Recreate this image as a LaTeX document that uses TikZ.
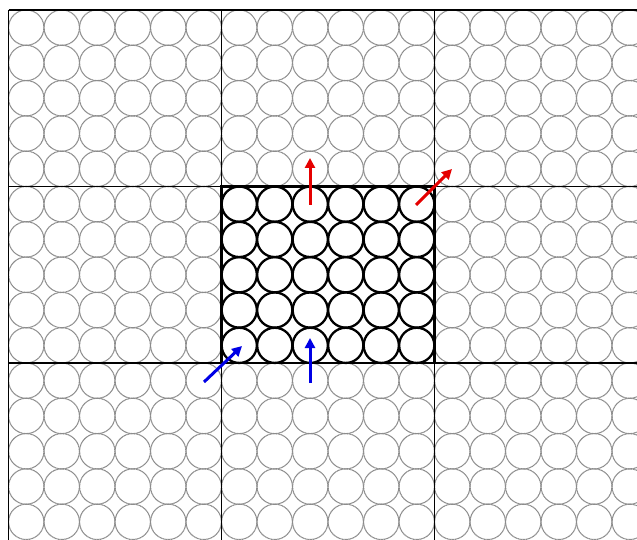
\documentclass[tikz,border=0pt]{standalone}
\usetikzlibrary{arrows.meta}
\begin{document}
\begin{tikzpicture}[
        x=1pt, y=-1pt,
        ghost/.style={draw=gray!90, dash pattern=on 1.2pt off 0.4pt, line width=1.1pt},
        atom/.style={draw=black, line width=2.3pt},
        cellline/.style={draw=black, line width=1.2pt},
        homebox/.style={draw=black, line width=2.4pt},
        leave/.style={-{Triangle[length=10pt, width=10pt]}, line width=3pt, red!90!black},
        enter/.style={-{Triangle[length=10pt, width=10pt]}, line width=3pt, blue!90!black}
    ]
        \useasboundingbox (0,0) rectangle (637,540);
        \clip (0,0) rectangle (637,540);

        % Periodic images
        \foreach \cx in {0,1,2}
            \foreach \cy in {0,1,2}
                \foreach \i in {0,...,5}
                    \foreach \j in {0,...,4}
                        \draw[ghost] ({8.5+213*\cx+35.5*(\i+0.5)}, {10+176.5*\cy+35.3*(\j+0.5)}) circle (17.7);

        % Cell boundaries
        \draw[cellline] (8.5,10) -- (637,10);
        \draw[cellline] (8.5,186.5) -- (637,186.5);
        \draw[cellline] (8.5,363) -- (637,363);
        \draw[cellline] (8.5,10) -- (8.5,540);
        \draw[cellline] (221.5,10) -- (221.5,540);
        \draw[cellline] (434.5,10) -- (434.5,540);

        % Simulation box
        \fill[white] (221.5,186.5) rectangle (434.5,363);
        \foreach \i in {0,...,5}
            \foreach \j in {0,...,4}
                \draw[atom] ({221.5+35.5*(\i+0.5)}, {186.5+35.3*(\j+0.5)}) circle (17.6);
        \draw[homebox] (221.5,186.5) rectangle (434.5,363);

        % Particles leaving
        \coordinate (upA) at (310,205);
        \coordinate (upB) at (310,158);
        \coordinate (diagA) at (416,205);
        \coordinate (diagB) at (452,169);
        \draw[leave] (upA) -- (upB);
        \draw[leave] (diagA) -- (diagB);

        % Particles entering
        \coordinate (inA) at (204,382);
        \coordinate (inB) at (242,346);
        \coordinate (inC) at (310,383);
        \coordinate (inD) at (310,338);
        \draw[enter] (inA) -- (inB);
        \draw[enter] (inC) -- (inD);
    \end{tikzpicture}
\end{document}
